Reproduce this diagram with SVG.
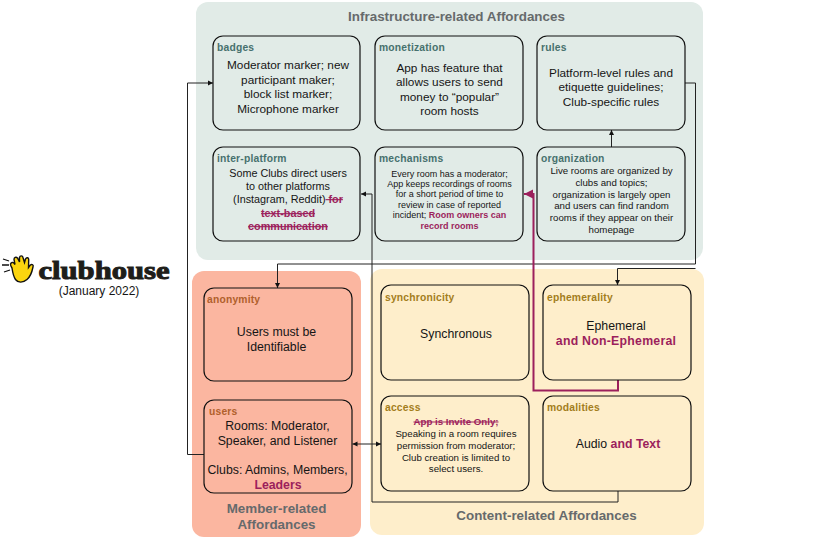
<svg xmlns="http://www.w3.org/2000/svg" width="830" height="540" viewBox="0 0 830 540">
<style>
text{font-family:"Liberation Sans",Arial,sans-serif;fill:#151515;text-anchor:middle}
.box{stroke:#111;stroke-width:1.2}
.infra{fill:#e1ebe7}.mem{fill:#fbb6a0}.con{fill:#feeecb}
.title{font-size:13.4px;font-weight:700;fill:#666a6c}
.tag{font-size:10.300px;font-weight:700;text-anchor:start;letter-spacing:.2px}
.ti{fill:#47716e}.tm{fill:#b0602c}.tc{fill:#a37d1c}
.b{font-size:11.8px}.l{font-size:12.300px}.s{font-size:9px}.m{font-size:9.700px}.p{font-size:10.800px}
.hl{fill:#9c1f5c;font-weight:700}
.del{text-decoration:line-through}
.wire{fill:none;stroke:#222;stroke-width:1}
.pink{fill:none;stroke:#9c1f5c;stroke-width:2}
</style>
<defs>
<marker id="ah" markerUnits="userSpaceOnUse" markerWidth="6" markerHeight="6" refX="5" refY="3" orient="auto-start-reverse"><path d="M0 .5L5 3L0 5.500z" fill="#111"/></marker>
<marker id="ap" markerUnits="userSpaceOnUse" markerWidth="10" markerHeight="10" refX="9" refY="5" orient="auto"><path d="M0 .5L9 5L0 9.500z" fill="#9c1f5c"/></marker>
</defs>

<!-- Category panels -->
<rect class="infra" x="196" y="2" width="507" height="258" rx="12"/>
<rect class="mem" x="192" y="271" width="169" height="266" rx="12"/>
<rect class="con" x="370" y="269" width="334" height="266" rx="12"/>
<text class="title" x="456.500" y="21">Infrastructure-related Affordances</text>
<text class="title" x="276.500" y="513">Member-related</text>
<text class="title" x="276.500" y="529">Affordances</text>
<text class="title" x="546.500" y="520">Content-related Affordances</text>

<!-- Logo -->
<g id="logo">
<path d="M3 259l6 2M2 265l7 0M4 272l6-2" stroke="#111" stroke-width="1.300" fill="none"/>
<path d="M12 268c-2-3-2-5 0-5.500c1-.5 2 .5 3 2l-1-5c0-2 2-3 3.500-1.500l2 4 0-4.500c.5-2 3-2.200 3.500 0l1.500 5 1-3.500c1-2 3.200-1.500 3.200 .5l-.2 8 1.800-2.500c1.800-1.200 3.500 0 2.700 2c-1 5-3 10-6 12.500c-4 3.500-9 3.500-11.500 0c-2-3-3-8-3.500-11.500z" fill="#fbd50f" stroke="#111" stroke-width="1.400"/>
<text x="104" y="279" style="font-family:'Liberation Serif',serif;font-size:25.500px;font-weight:700;fill:#1e1e1a;stroke:#1e1e1a;stroke-width:1" textLength="131" lengthAdjust="spacingAndGlyphs">clubhouse</text>
<text x="99" y="295" style="font-size:12px">(January 2022)</text>
</g>

<!-- Connectors -->
<g id="connectors">
<path class="wire" marker-end="url(#ah)" d="M204 454.500H187.500V83H213"/>
<path class="wire" marker-end="url(#ah)" d="M685 83H695.500V264H277.500V288"/>
<path class="wire" marker-end="url(#ah)" d="M695.500 268.500H617.500V285"/>
<path class="wire" marker-end="url(#ah)" d="M611.500 147V130"/>
<path class="wire" marker-end="url(#ah)" d="M618 491V502H372V194H361"/>
<path class="wire" marker-start="url(#ah)" marker-end="url(#ah)" d="M352.500 444H381"/>
<path class="pink" marker-end="url(#ap)" d="M618 380V390.500H533.500V194H524"/>
</g>

<!-- Infrastructure affordances -->
<g id="badges"><rect class="box infra" x="213" y="36" width="147" height="94" rx="10"/>
<text class="tag ti" x="217" y="51">badges</text>
<text class="b" x="288" y="69">Moderator marker; new</text><text class="b" x="288" y="84">participant maker;</text><text class="b" x="288" y="98">block list marker;</text><text class="b" x="288" y="113">Microphone marker</text></g>
<g id="monetization"><rect class="box infra" x="375" y="36" width="148" height="94" rx="10"/>
<text class="tag ti" x="379" y="51">monetization</text>
<text class="b" x="449.500" y="72">App has feature that</text><text class="b" x="449.500" y="86">allows users to send</text><text class="b" x="449.500" y="101">money to “popular”</text><text class="b" x="449.500" y="115">room hosts</text></g>
<g id="rules"><rect class="box infra" x="537" y="36" width="148" height="94" rx="10"/>
<text class="tag ti" x="541" y="51">rules</text>
<text class="b" x="611" y="77">Platform-level rules and</text><text class="b" x="611" y="91">etiquette guidelines;</text><text class="b" x="611" y="106">Club-specific rules</text></g>
<g id="inter-platform"><rect class="box infra" x="213" y="147" width="147" height="94" rx="10"/>
<text class="tag ti" x="217" y="162">inter-platform</text>
<text class="p" x="288" y="177">Some Clubs direct users</text><text class="p" x="288" y="190">to other platforms</text>
<text class="p" x="288" y="203">(Instagram, Reddit)<tspan class="hl del"> for</tspan></text>
<text class="p hl del" x="288" y="217">text-based</text><text class="p hl del" x="288" y="230">communication</text></g>
<g id="mechanisms"><rect class="box infra" x="375" y="147" width="148" height="94" rx="10"/>
<text class="tag ti" x="379" y="162">mechanisms</text>
<text class="s" x="449.500" y="177">Every room has a moderator;</text><text class="s" x="449.500" y="187">App keeps recordings of rooms</text><text class="s" x="449.500" y="197">for a short period of time to</text><text class="s" x="449.500" y="208">review in case of reported</text>
<text class="s" x="449.500" y="218">incident; <tspan class="hl">Room owners can</tspan></text><text class="s hl" x="449.500" y="229">record rooms</text></g>
<g id="organization"><rect class="box infra" x="537" y="147" width="148" height="94" rx="10"/>
<text class="tag ti" x="541" y="162">organization</text>
<text class="m" x="611.500" y="174">Live rooms are organized by</text><text class="m" x="611.500" y="186">clubs and topics;</text><text class="m" x="611.500" y="198">organization is largely open</text><text class="m" x="611.500" y="209">and users can find random</text><text class="m" x="611.500" y="221">rooms if they appear on their</text><text class="m" x="611.500" y="233">homepage</text></g>

<!-- Member affordances -->
<g id="anonymity"><rect class="box mem" x="204" y="288" width="148" height="93" rx="10"/>
<text class="tag tm" x="207" y="303">anonymity</text>
<text class="l" x="276.500" y="336">Users must be</text><text class="l" x="276.500" y="351">Identifiable</text></g>
<g id="users"><rect class="box mem" x="204" y="400" width="148" height="93" rx="10"/>
<text class="tag tm" x="209" y="415">users</text>
<text class="l" x="277.500" y="430">Rooms: Moderator,</text><text class="l" x="277.500" y="445">Speaker, and Listener</text><text class="l" x="277.500" y="474">Clubs: Admins, Members,</text><text class="l hl" x="278" y="489">Leaders</text></g>

<!-- Content affordances -->
<g id="synchronicity"><rect class="box con" x="381" y="285" width="148" height="95" rx="10"/>
<text class="tag tc" x="385" y="301">synchronicity</text>
<text class="l" x="456" y="338">Synchronous</text></g>
<g id="ephemerality"><rect class="box con" x="543" y="285" width="148" height="95" rx="10"/>
<text class="tag tc" x="547" y="301">ephemerality</text>
<text class="l" x="616" y="330">Ephemeral</text><text class="l hl" x="616" y="345" style="letter-spacing:.25px">and Non-Ephemeral</text></g>
<g id="access"><rect class="box con" x="381" y="396" width="148" height="95" rx="10"/>
<text class="tag tc" x="385" y="411">access</text>
<text class="m hl del" x="456" y="425">App is Invite Only;</text><text class="m" x="456" y="437">Speaking in a room requires</text><text class="m" x="456" y="449">permission from moderator;</text><text class="m" x="456" y="461">Club creation is limited to</text><text class="m" x="456" y="472">select users.</text></g>
<g id="modalities"><rect class="box con" x="543" y="396" width="148" height="95" rx="10"/>
<text class="tag tc" x="547" y="411">modalities</text>
<text class="l" x="618" y="448">Audio <tspan class="hl">and Text</tspan></text></g>
</svg>
